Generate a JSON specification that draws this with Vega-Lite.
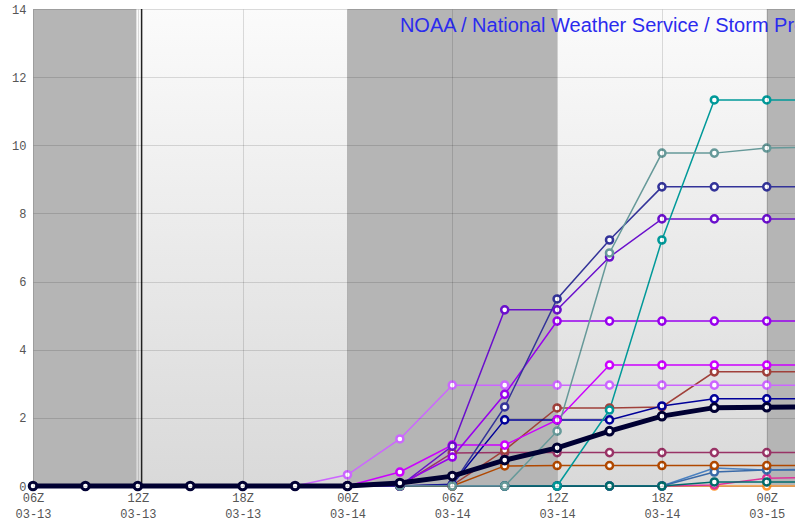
{
  "$schema": "https://vega.github.io/schema/vega-lite/v6.json",
  "width": 762,
  "height": 477,
  "autosize": {"type": "none"},
  "padding": {"left": 33, "top": 9, "right": 0, "bottom": 36},
  "background": "#ffffff",
  "config": {
    "view": {"stroke": null},
    "axis": {
      "grid": true,
      "gridColor": "#000000",
      "gridOpacity": 0.13,
      "gridWidth": 1,
      "domain": false,
      "ticks": false,
      "labelFont": "Liberation Mono",
      "labelFontSize": 12,
      "labelColor": "#555555",
      "title": null,
      "zindex": 1
    }
  },
  "datasets": {
    "days": [
      {"start": "2025-03-13T06:00:00Z", "end": "2025-03-15T06:00:00Z"}
    ],
    "nights": [
      {"start": "2025-03-13T06:00:00Z", "end": "2025-03-13T11:55:00Z"},
      {"start": "2025-03-14T00:00:00Z", "end": "2025-03-14T12:00:00Z"},
      {"start": "2025-03-15T00:00:00Z", "end": "2025-03-15T06:00:00Z"}
    ],
    "now": [{"t": "2025-03-13T12:13:00Z"}],
    "banner": [{"label": "NOAA / National Weather Service / Storm Prediction Center"}],
    "runs": [
      {"s": "orange", "t": "2025-03-14T00:00:00Z", "v": 0},
      {"s": "orange", "t": "2025-03-14T03:00:00Z", "v": 0},
      {"s": "orange", "t": "2025-03-14T06:00:00Z", "v": 0},
      {"s": "orange", "t": "2025-03-14T09:00:00Z", "v": 0},
      {"s": "orange", "t": "2025-03-14T12:00:00Z", "v": 0},
      {"s": "orange", "t": "2025-03-14T15:00:00Z", "v": 0},
      {"s": "orange", "t": "2025-03-14T18:00:00Z", "v": 0},
      {"s": "orange", "t": "2025-03-14T21:00:00Z", "v": 0},
      {"s": "orange", "t": "2025-03-15T00:00:00Z", "v": 0},
      {"s": "orange", "t": "2025-03-15T03:00:00Z", "v": 0},

      {"s": "pink", "t": "2025-03-14T00:00:00Z", "v": 0},
      {"s": "pink", "t": "2025-03-14T03:00:00Z", "v": 0},
      {"s": "pink", "t": "2025-03-14T06:00:00Z", "v": 0},
      {"s": "pink", "t": "2025-03-14T09:00:00Z", "v": 0},
      {"s": "pink", "t": "2025-03-14T12:00:00Z", "v": 0},
      {"s": "pink", "t": "2025-03-14T15:00:00Z", "v": 0},
      {"s": "pink", "t": "2025-03-14T18:00:00Z", "v": 0},
      {"s": "pink", "t": "2025-03-14T21:00:00Z", "v": 0.03},
      {"s": "pink", "t": "2025-03-15T00:00:00Z", "v": 0.23},
      {"s": "pink", "t": "2025-03-15T03:00:00Z", "v": 0.25},

      {"s": "steel2", "t": "2025-03-14T00:00:00Z", "v": 0},
      {"s": "steel2", "t": "2025-03-14T03:00:00Z", "v": 0},
      {"s": "steel2", "t": "2025-03-14T06:00:00Z", "v": 0},
      {"s": "steel2", "t": "2025-03-14T09:00:00Z", "v": 0},
      {"s": "steel2", "t": "2025-03-14T12:00:00Z", "v": 0},
      {"s": "steel2", "t": "2025-03-14T15:00:00Z", "v": 0},
      {"s": "steel2", "t": "2025-03-14T18:00:00Z", "v": 0},
      {"s": "steel2", "t": "2025-03-14T21:00:00Z", "v": 0.53},
      {"s": "steel2", "t": "2025-03-15T00:00:00Z", "v": 0.47},
      {"s": "steel2", "t": "2025-03-15T03:00:00Z", "v": 0.49},

      {"s": "steel1", "t": "2025-03-14T00:00:00Z", "v": 0},
      {"s": "steel1", "t": "2025-03-14T03:00:00Z", "v": 0},
      {"s": "steel1", "t": "2025-03-14T06:00:00Z", "v": 0},
      {"s": "steel1", "t": "2025-03-14T09:00:00Z", "v": 0},
      {"s": "steel1", "t": "2025-03-14T12:00:00Z", "v": 0},
      {"s": "steel1", "t": "2025-03-14T15:00:00Z", "v": 0},
      {"s": "steel1", "t": "2025-03-14T18:00:00Z", "v": 0},
      {"s": "steel1", "t": "2025-03-14T21:00:00Z", "v": 0.41},
      {"s": "steel1", "t": "2025-03-15T00:00:00Z", "v": 0.47},
      {"s": "steel1", "t": "2025-03-15T03:00:00Z", "v": 0.47},

      {"s": "darkteal", "t": "2025-03-14T09:00:00Z", "v": 0},
      {"s": "darkteal", "t": "2025-03-14T12:00:00Z", "v": 0},
      {"s": "darkteal", "t": "2025-03-14T15:00:00Z", "v": 0},
      {"s": "darkteal", "t": "2025-03-14T18:00:00Z", "v": 0},
      {"s": "darkteal", "t": "2025-03-14T21:00:00Z", "v": 0.12},
      {"s": "darkteal", "t": "2025-03-15T00:00:00Z", "v": 0.12},
      {"s": "darkteal", "t": "2025-03-15T03:00:00Z", "v": 0.12},

      {"s": "rust", "t": "2025-03-14T00:00:00Z", "v": 0},
      {"s": "rust", "t": "2025-03-14T03:00:00Z", "v": 0},
      {"s": "rust", "t": "2025-03-14T06:00:00Z", "v": 0},
      {"s": "rust", "t": "2025-03-14T09:00:00Z", "v": 0.59},
      {"s": "rust", "t": "2025-03-14T12:00:00Z", "v": 0.6},
      {"s": "rust", "t": "2025-03-14T15:00:00Z", "v": 0.6},
      {"s": "rust", "t": "2025-03-14T18:00:00Z", "v": 0.6},
      {"s": "rust", "t": "2025-03-14T21:00:00Z", "v": 0.6},
      {"s": "rust", "t": "2025-03-15T00:00:00Z", "v": 0.6},
      {"s": "rust", "t": "2025-03-15T03:00:00Z", "v": 0.6},

      {"s": "plum", "t": "2025-03-14T00:00:00Z", "v": 0},
      {"s": "plum", "t": "2025-03-14T03:00:00Z", "v": 0},
      {"s": "plum", "t": "2025-03-14T06:00:00Z", "v": 0.97},
      {"s": "plum", "t": "2025-03-14T09:00:00Z", "v": 0.98},
      {"s": "plum", "t": "2025-03-14T12:00:00Z", "v": 0.98},
      {"s": "plum", "t": "2025-03-14T15:00:00Z", "v": 0.98},
      {"s": "plum", "t": "2025-03-14T18:00:00Z", "v": 0.98},
      {"s": "plum", "t": "2025-03-14T21:00:00Z", "v": 0.98},
      {"s": "plum", "t": "2025-03-15T00:00:00Z", "v": 0.98},
      {"s": "plum", "t": "2025-03-15T03:00:00Z", "v": 0.98},

      {"s": "brick", "t": "2025-03-14T00:00:00Z", "v": 0},
      {"s": "brick", "t": "2025-03-14T03:00:00Z", "v": 0},
      {"s": "brick", "t": "2025-03-14T06:00:00Z", "v": 0.02},
      {"s": "brick", "t": "2025-03-14T09:00:00Z", "v": 1.05},
      {"s": "brick", "t": "2025-03-14T12:00:00Z", "v": 2.29},
      {"s": "brick", "t": "2025-03-14T15:00:00Z", "v": 2.29},
      {"s": "brick", "t": "2025-03-14T18:00:00Z", "v": 2.32},
      {"s": "brick", "t": "2025-03-14T21:00:00Z", "v": 3.35},
      {"s": "brick", "t": "2025-03-15T00:00:00Z", "v": 3.35},
      {"s": "brick", "t": "2025-03-15T03:00:00Z", "v": 3.35},

      {"s": "navy", "t": "2025-03-14T00:00:00Z", "v": 0},
      {"s": "navy", "t": "2025-03-14T03:00:00Z", "v": 0},
      {"s": "navy", "t": "2025-03-14T06:00:00Z", "v": 0.05},
      {"s": "navy", "t": "2025-03-14T09:00:00Z", "v": 1.94},
      {"s": "navy", "t": "2025-03-14T12:00:00Z", "v": 1.94},
      {"s": "navy", "t": "2025-03-14T15:00:00Z", "v": 1.94},
      {"s": "navy", "t": "2025-03-14T18:00:00Z", "v": 2.35},
      {"s": "navy", "t": "2025-03-14T21:00:00Z", "v": 2.56},
      {"s": "navy", "t": "2025-03-15T00:00:00Z", "v": 2.56},
      {"s": "navy", "t": "2025-03-15T03:00:00Z", "v": 2.56},

      {"s": "lilac", "t": "2025-03-13T21:00:00Z", "v": 0},
      {"s": "lilac", "t": "2025-03-14T00:00:00Z", "v": 0.33},
      {"s": "lilac", "t": "2025-03-14T03:00:00Z", "v": 1.38},
      {"s": "lilac", "t": "2025-03-14T06:00:00Z", "v": 2.96},
      {"s": "lilac", "t": "2025-03-14T09:00:00Z", "v": 2.96},
      {"s": "lilac", "t": "2025-03-14T12:00:00Z", "v": 2.96},
      {"s": "lilac", "t": "2025-03-14T15:00:00Z", "v": 2.96},
      {"s": "lilac", "t": "2025-03-14T18:00:00Z", "v": 2.96},
      {"s": "lilac", "t": "2025-03-14T21:00:00Z", "v": 2.96},
      {"s": "lilac", "t": "2025-03-15T00:00:00Z", "v": 2.96},
      {"s": "lilac", "t": "2025-03-15T03:00:00Z", "v": 2.96},

      {"s": "magenta", "t": "2025-03-14T00:00:00Z", "v": 0},
      {"s": "magenta", "t": "2025-03-14T03:00:00Z", "v": 0.41},
      {"s": "magenta", "t": "2025-03-14T06:00:00Z", "v": 1.2},
      {"s": "magenta", "t": "2025-03-14T09:00:00Z", "v": 1.2},
      {"s": "magenta", "t": "2025-03-14T12:00:00Z", "v": 1.94},
      {"s": "magenta", "t": "2025-03-14T15:00:00Z", "v": 3.55},
      {"s": "magenta", "t": "2025-03-14T18:00:00Z", "v": 3.55},
      {"s": "magenta", "t": "2025-03-14T21:00:00Z", "v": 3.55},
      {"s": "magenta", "t": "2025-03-15T00:00:00Z", "v": 3.55},
      {"s": "magenta", "t": "2025-03-15T03:00:00Z", "v": 3.55},

      {"s": "violet", "t": "2025-03-14T00:00:00Z", "v": 0},
      {"s": "violet", "t": "2025-03-14T03:00:00Z", "v": 0.05},
      {"s": "violet", "t": "2025-03-14T06:00:00Z", "v": 0.85},
      {"s": "violet", "t": "2025-03-14T09:00:00Z", "v": 2.69},
      {"s": "violet", "t": "2025-03-14T12:00:00Z", "v": 4.84},
      {"s": "violet", "t": "2025-03-14T15:00:00Z", "v": 4.84},
      {"s": "violet", "t": "2025-03-14T18:00:00Z", "v": 4.84},
      {"s": "violet", "t": "2025-03-14T21:00:00Z", "v": 4.84},
      {"s": "violet", "t": "2025-03-15T00:00:00Z", "v": 4.84},
      {"s": "violet", "t": "2025-03-15T03:00:00Z", "v": 4.84},

      {"s": "purple", "t": "2025-03-14T00:00:00Z", "v": 0},
      {"s": "purple", "t": "2025-03-14T03:00:00Z", "v": 0},
      {"s": "purple", "t": "2025-03-14T06:00:00Z", "v": 1.17},
      {"s": "purple", "t": "2025-03-14T09:00:00Z", "v": 5.17},
      {"s": "purple", "t": "2025-03-14T12:00:00Z", "v": 5.17},
      {"s": "purple", "t": "2025-03-14T15:00:00Z", "v": 6.72},
      {"s": "purple", "t": "2025-03-14T18:00:00Z", "v": 7.84},
      {"s": "purple", "t": "2025-03-14T21:00:00Z", "v": 7.84},
      {"s": "purple", "t": "2025-03-15T00:00:00Z", "v": 7.84},
      {"s": "purple", "t": "2025-03-15T03:00:00Z", "v": 7.84},

      {"s": "slate", "t": "2025-03-14T00:00:00Z", "v": 0},
      {"s": "slate", "t": "2025-03-14T03:00:00Z", "v": 0},
      {"s": "slate", "t": "2025-03-14T06:00:00Z", "v": 0.03},
      {"s": "slate", "t": "2025-03-14T09:00:00Z", "v": 2.32},
      {"s": "slate", "t": "2025-03-14T12:00:00Z", "v": 5.49},
      {"s": "slate", "t": "2025-03-14T15:00:00Z", "v": 7.22},
      {"s": "slate", "t": "2025-03-14T18:00:00Z", "v": 8.78},
      {"s": "slate", "t": "2025-03-14T21:00:00Z", "v": 8.78},
      {"s": "slate", "t": "2025-03-15T00:00:00Z", "v": 8.78},
      {"s": "slate", "t": "2025-03-15T03:00:00Z", "v": 8.78},

      {"s": "teal", "t": "2025-03-14T12:00:00Z", "v": 0},
      {"s": "teal", "t": "2025-03-14T15:00:00Z", "v": 2.23},
      {"s": "teal", "t": "2025-03-14T18:00:00Z", "v": 7.22},
      {"s": "teal", "t": "2025-03-14T21:00:00Z", "v": 11.33},
      {"s": "teal", "t": "2025-03-15T00:00:00Z", "v": 11.33},
      {"s": "teal", "t": "2025-03-15T03:00:00Z", "v": 11.33},

      {"s": "cadet", "t": "2025-03-14T03:00:00Z", "v": 0},
      {"s": "cadet", "t": "2025-03-14T06:00:00Z", "v": 0},
      {"s": "cadet", "t": "2025-03-14T09:00:00Z", "v": 0},
      {"s": "cadet", "t": "2025-03-14T12:00:00Z", "v": 1.61},
      {"s": "cadet", "t": "2025-03-14T15:00:00Z", "v": 6.84},
      {"s": "cadet", "t": "2025-03-14T18:00:00Z", "v": 9.77},
      {"s": "cadet", "t": "2025-03-14T21:00:00Z", "v": 9.77},
      {"s": "cadet", "t": "2025-03-15T00:00:00Z", "v": 9.92},
      {"s": "cadet", "t": "2025-03-15T03:00:00Z", "v": 9.95}
    ],
    "mean": [
      {"t": "2025-03-13T06:00:00Z", "v": 0},
      {"t": "2025-03-13T09:00:00Z", "v": 0},
      {"t": "2025-03-13T12:00:00Z", "v": 0},
      {"t": "2025-03-13T15:00:00Z", "v": 0},
      {"t": "2025-03-13T18:00:00Z", "v": 0},
      {"t": "2025-03-13T21:00:00Z", "v": 0},
      {"t": "2025-03-14T00:00:00Z", "v": 0},
      {"t": "2025-03-14T03:00:00Z", "v": 0.09},
      {"t": "2025-03-14T06:00:00Z", "v": 0.29},
      {"t": "2025-03-14T09:00:00Z", "v": 0.76},
      {"t": "2025-03-14T12:00:00Z", "v": 1.12},
      {"t": "2025-03-14T15:00:00Z", "v": 1.61},
      {"t": "2025-03-14T18:00:00Z", "v": 2.05},
      {"t": "2025-03-14T21:00:00Z", "v": 2.3},
      {"t": "2025-03-15T00:00:00Z", "v": 2.31},
      {"t": "2025-03-15T03:00:00Z", "v": 2.32}
    ]
  },
  "layer": [
    {
      "data": {"name": "days"},
      "mark": {
        "type": "rect",
        "color": {
          "gradient": "linear",
          "x1": 0, "y1": 0, "x2": 0, "y2": 1,
          "stops": [
            {"offset": 0, "color": "#fbfbfb"},
            {"offset": 1, "color": "#d9d9d9"}
          ]
        }
      },
      "encoding": {
        "x": {
          "field": "start",
          "type": "temporal",
          "scale": {
            "type": "utc",
            "nice": false,
            "domain": [
              {"year": 2025, "month": 3, "date": 13, "hours": 6, "utc": true},
              {"year": 2025, "month": 3, "date": 15, "hours": 1, "minutes": 37, "utc": true}
            ]
          },
          "axis": {
            "values": [
              {"year": 2025, "month": 3, "date": 13, "hours": 6, "utc": true},
              {"year": 2025, "month": 3, "date": 13, "hours": 12, "utc": true},
              {"year": 2025, "month": 3, "date": 13, "hours": 18, "utc": true},
              {"year": 2025, "month": 3, "date": 14, "hours": 0, "utc": true},
              {"year": 2025, "month": 3, "date": 14, "hours": 6, "utc": true},
              {"year": 2025, "month": 3, "date": 14, "hours": 12, "utc": true},
              {"year": 2025, "month": 3, "date": 14, "hours": 18, "utc": true},
              {"year": 2025, "month": 3, "date": 15, "hours": 0, "utc": true}
            ],
            "labelExpr": "[utcFormat(datum.value, '%HZ'), utcFormat(datum.value, '%m-%d')]",
            "labelFlush": false,
            "labelOverlap": false,
            "labelBound": false,
            "labelPadding": 6,
            "labelLineHeight": 16,
            "labelAlign": "center",
            "zindex": 1,
            "grid": true
          }
        },
        "x2": {"field": "end"}
      }
    },
    {
      "data": {"name": "nights"},
      "mark": {"type": "rect", "color": "#b5b5b5"},
      "encoding": {
        "x": {"field": "start", "type": "temporal"},
        "x2": {"field": "end"}
      }
    },
    {
      "data": {"name": "now"},
      "mark": {"type": "rule", "color": "#222222", "strokeWidth": 1.5},
      "encoding": {
        "x": {"field": "t", "type": "temporal"}
      }
    },
    {
      "data": {"name": "banner"},
      "mark": {
        "type": "text",
        "align": "left",
        "baseline": "alphabetic",
        "font": "Liberation Sans",
        "fontSize": 20,
        "color": "#2b2bee"
      },
      "encoding": {
        "x": {"datum": {"year": 2025, "month": 3, "date": 14, "hours": 3, "utc": true}, "type": "temporal"},
        "y": {"datum": 13.33, "type": "quantitative"},
        "text": {"field": "label", "type": "nominal"}
      }
    },
    {
      "data": {"name": "runs"},
      "mark": {"type": "line", "strokeWidth": 1.5},
      "encoding": {
        "x": {"field": "t", "type": "temporal"},
        "y": {
          "field": "v",
          "type": "quantitative",
          "scale": {"domain": [0, 14], "nice": false, "zero": true},
          "axis": {
            "values": [0, 2, 4, 6, 8, 10, 12, 14],
            "labelPadding": 7,
            "labelBaseline": "middle",
            "zindex": 1,
            "grid": true
          }
        },
        "color": {
          "field": "s",
          "type": "nominal",
          "legend": null,
          "scale": {
            "domain": ["orange", "pink", "steel2", "steel1", "darkteal", "rust", "plum", "brick", "navy", "lilac", "magenta", "violet", "purple", "slate", "teal", "cadet"],
            "range": ["#ff9933", "#dd3399", "#4a80c0", "#3a6aa8", "#006b6b", "#b04800", "#993366", "#a0403a", "#000099", "#cc66ff", "#cc00ff", "#9900ee", "#6a0fcc", "#333399", "#009999", "#669999"]
          }
        },
        "order": {"field": "t", "type": "temporal"}
      }
    },
    {
      "data": {"name": "runs"},
      "mark": {"type": "point", "shape": "circle", "filled": false, "fill": "#ffffff", "fillOpacity": 1, "opacity": 1, "strokeWidth": 2.5, "size": 50},
      "encoding": {
        "x": {"field": "t", "type": "temporal"},
        "y": {"field": "v", "type": "quantitative"},
        "color": {"field": "s", "type": "nominal", "legend": null}
      }
    },
    {
      "data": {"name": "mean"},
      "mark": {"type": "line", "color": "#000033", "strokeWidth": 5},
      "encoding": {
        "x": {"field": "t", "type": "temporal"},
        "y": {"field": "v", "type": "quantitative"}
      }
    },
    {
      "data": {"name": "mean"},
      "mark": {"type": "point", "shape": "circle", "filled": false, "fill": "#ffffff", "fillOpacity": 1, "opacity": 1, "color": "#000033", "strokeWidth": 3, "size": 58},
      "encoding": {
        "x": {"field": "t", "type": "temporal"},
        "y": {"field": "v", "type": "quantitative"}
      }
    }
  ]
}
